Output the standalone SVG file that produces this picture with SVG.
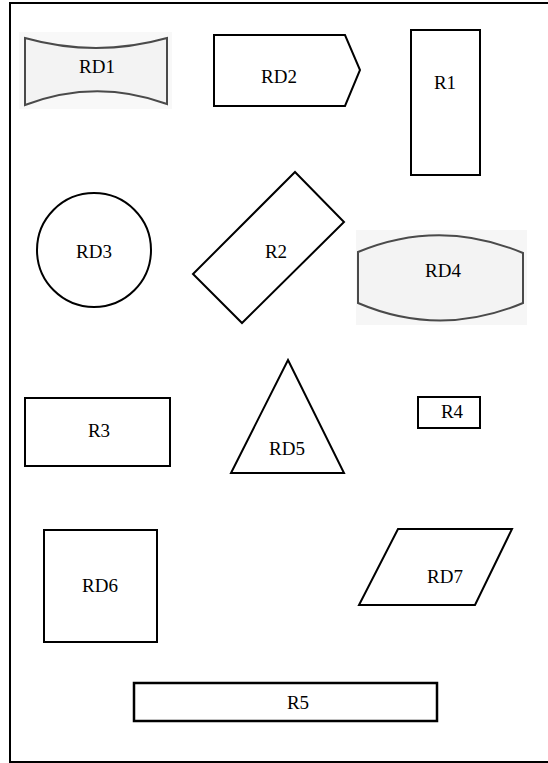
<svg xmlns="http://www.w3.org/2000/svg" width="548" height="763" viewBox="0 0 548 763">
<style>
.s{fill:#fff;stroke:#000;stroke-width:2}
.img{fill:#f3f3f3;stroke:#4a4a4a;stroke-width:2}
text{font-family:'Liberation Serif','DejaVu Serif',serif;font-size:19px;fill:#000;text-anchor:middle}
</style>
<rect width="548" height="763" fill="#fff"/>
<rect x="10" y="3" width="545" height="759" fill="none" stroke="#000" stroke-width="2"/>
<g id="RD1">
<rect x="19" y="32" width="153" height="77" fill="#f8f8f8"/>
<path class="img" d="M25,38 Q96,58 167,38 L167,104 Q96,78 25,105 Z"/>
<text x="97" y="73">RD1</text>
</g>
<g id="RD2">
<path class="s" d="M214,35 L345,35 L360,70 L345,106 L214,106 Z"/>
<text x="279" y="83">RD2</text>
</g>
<g id="R1">
<rect class="s" x="411" y="30" width="69" height="145"/>
<text x="445" y="89">R1</text>
</g>
<g id="RD3">
<circle class="s" cx="94" cy="250" r="57"/>
<text x="94" y="258">RD3</text>
</g>
<g id="R2">
<path class="s" d="M295,172 L344,222 L242,323 L193,274 Z"/>
<text x="276" y="258">R2</text>
</g>
<g id="RD4">
<rect x="356" y="230" width="171" height="95" fill="#f6f6f6"/>
<path class="img" d="M358,252 Q440,218 523,253 L523,303 Q440,338 358,303 Z"/>
<text x="443" y="277">RD4</text>
</g>
<g id="R3">
<rect class="s" x="25" y="398" width="145" height="68"/>
<text x="99" y="437">R3</text>
</g>
<g id="RD5">
<path class="s" d="M288,360 L344,473 L231,473 Z"/>
<text x="287" y="455">RD5</text>
</g>
<g id="R4">
<rect class="s" x="418" y="397" width="62" height="31"/>
<text x="452" y="418">R4</text>
</g>
<g id="RD6">
<rect class="s" x="44" y="530" width="113" height="112"/>
<text x="100" y="592">RD6</text>
</g>
<g id="RD7">
<path class="s" d="M398,529 L512,529 L475,605 L359,605 Z"/>
<text x="445" y="583">RD7</text>
</g>
<g id="R5">
<rect x="134" y="683" width="303" height="38" fill="#fff" stroke="#000" stroke-width="2.5"/>
<text x="298" y="709">R5</text>
</g>
<g id="connectors"></g>
</svg>
